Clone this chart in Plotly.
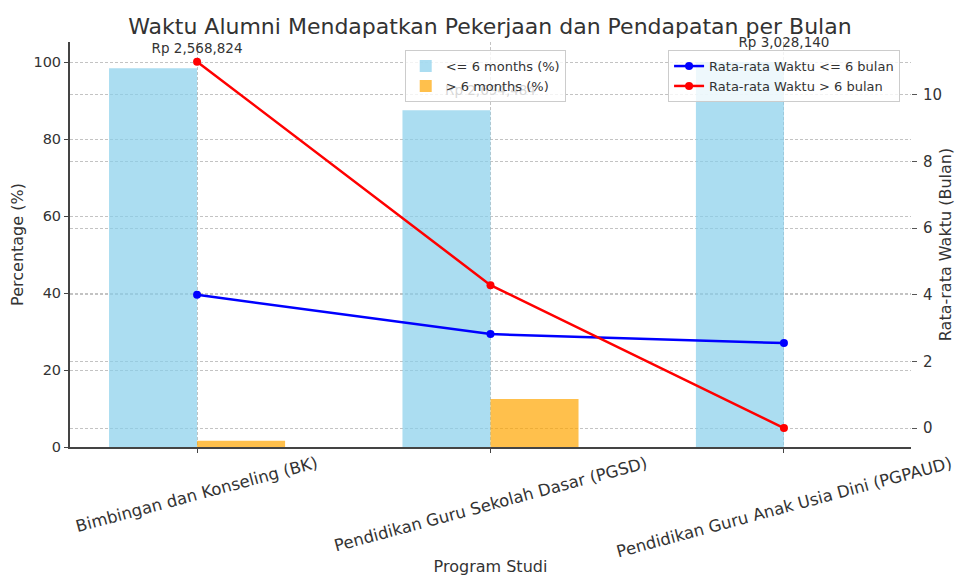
import plotly.graph_objects as go

categories = ["Bimbingan dan Konseling (BK)",
              "Pendidikan Guru Sekolah Dasar (PGSD)",
              "Pendidikan Guru Anak Usia Dini (PGPAUD)"]
pct_le6 = [98.4, 87.5, 100.0]
pct_gt6 = [1.6, 12.5, 0.0]
avg_le6 = [4.0, 2.82, 2.55]
avg_gt6 = [11.0, 4.29, 0.0]
income = ["Rp 2,568,824", "Rp 2,694,484", "Rp 3,028,140"]

xpos = list(range(len(categories)))
FONT = "DejaVu Sans"
TXT = "#333333"
GRID = "rgba(175,175,175,0.75)"
DASH = "3px,2px"
LABEL_OFFSET = 3.0

fig = go.Figure()
fig.add_trace(go.Bar(x=xpos, y=pct_le6, width=0.3, offset=-0.3,
                     marker=dict(color="rgba(135,206,235,0.7)", line=dict(width=0)),
                     name="<= 6 months (%)", legend="legend"))
fig.add_trace(go.Bar(x=xpos, y=pct_gt6, width=0.3, offset=0.0,
                     marker=dict(color="rgba(255,165,0,0.7)", line=dict(width=0)),
                     name="> 6 months (%)", legend="legend"))
fig.add_trace(go.Scatter(x=xpos, y=[v + LABEL_OFFSET for v in pct_le6],
                         mode="text", text=income, textposition="top center",
                         textfont=dict(family=FONT, size=13.5, color=TXT),
                         cliponaxis=False, showlegend=False, hoverinfo="skip"))
fig.add_trace(go.Scatter(x=xpos, y=avg_le6, yaxis="y2", mode="lines+markers",
                         line=dict(color="blue", width=2.5),
                         marker=dict(color="blue", size=8),
                         name="Rata-rata Waktu <= 6 bulan", legend="legend2"))
fig.add_trace(go.Scatter(x=xpos, y=avg_gt6, yaxis="y2", mode="lines+markers",
                         line=dict(color="red", width=2.5),
                         marker=dict(color="red", size=8),
                         name="Rata-rata Waktu > 6 bulan", legend="legend2"))

for i, lab in enumerate(categories):
    fig.add_annotation(x=xpos[i], y=0, xref="x", yref="paper", yshift=-4,
                       text=lab, showarrow=False, textangle=-15,
                       xanchor="center", yanchor="top",
                       font=dict(family=FONT, size=16.5, color=TXT))

fig.update_layout(
    width=955, height=576,
    margin=dict(l=70, r=44, t=42, b=129, autoexpand=False),
    paper_bgcolor="white", plot_bgcolor="white",
    barmode="overlay",
    font=dict(family=FONT, color=TXT, size=15),
    title=dict(text="Waktu Alumni Mendapatkan Pekerjaan dan Pendapatan per Bulan",
               x=0.513, xanchor="center", y=0.955, yanchor="middle",
               font=dict(family=FONT, size=22, color=TXT)),
    xaxis=dict(range=[-0.433, 2.433], tickmode="array", tickvals=xpos,
               showticklabels=False, automargin=False,
               showgrid=True, gridcolor=GRID, griddash=DASH, gridwidth=1,
               showline=True, linecolor="#444444", linewidth=2,
               ticks="outside", ticklen=4, tickcolor="#444444",
               title=dict(text="Program Studi", font=dict(size=16, color=TXT), standoff=111),
               zeroline=False),
    yaxis=dict(range=[0, 105.2], tickmode="array", tickvals=[0, 20, 40, 60, 80, 100],
               automargin=False,
               showgrid=True, gridcolor=GRID, griddash=DASH, gridwidth=1,
               showline=True, linecolor="#444444", linewidth=2,
               ticks="outside", ticklen=4, tickcolor="#444444",
               tickfont=dict(size=14.5, color=TXT),
               title=dict(text="Percentage (%)", font=dict(size=16, color=TXT), standoff=6),
               zeroline=False),
    yaxis2=dict(range=[-0.57, 11.59], overlaying="y", side="right",
                tickmode="array", tickvals=[0, 2, 4, 6, 8, 10], automargin=False,
                showgrid=True, gridcolor=GRID, griddash=DASH, gridwidth=1,
                showline=False, ticks="outside", ticklen=5, tickcolor="#555555",
                ticklabelstandoff=3,
                tickfont=dict(size=15, color=TXT),
                title=dict(text="Rata-rata Waktu (Bulan)", font=dict(size=16, color=TXT), standoff=4),
                zeroline=False),
    legend=dict(x=0.398, y=0.98, xanchor="left", yanchor="top",
                bgcolor="rgba(255,255,255,0.8)", bordercolor="#cccccc", borderwidth=1,
                font=dict(family=FONT, size=13, color=TXT), tracegroupgap=0),
    legend2=dict(x=0.987, y=0.98, xanchor="right", yanchor="top",
                 bgcolor="rgba(255,255,255,0.8)", bordercolor="#cccccc", borderwidth=1,
                 font=dict(family=FONT, size=13, color=TXT), tracegroupgap=0),
)

fig.write_html("out.html", config={"displayModeBar": False},
               post_script="document.body.style.margin='0';")
